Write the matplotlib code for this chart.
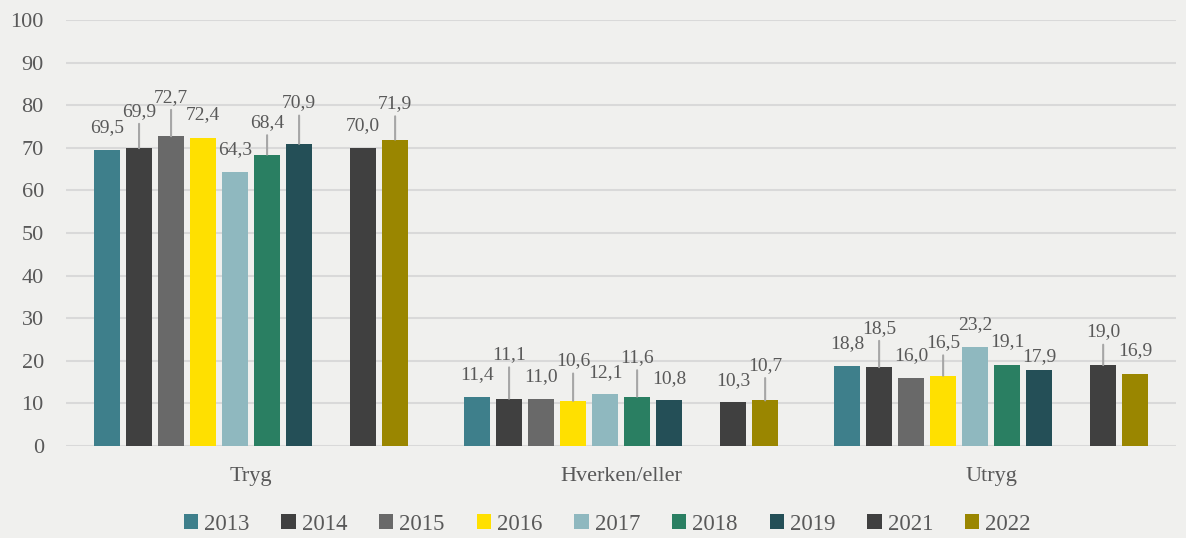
import numpy as np
import matplotlib
matplotlib.use("Agg")
import matplotlib.pyplot as plt

plt.rcParams['font.family'] = ['Liberation Serif', 'DejaVu Serif']

categories = ["Tryg", "Hverken/eller", "Utryg"]
years = ["2013", "2014", "2015", "2016", "2017", "2018", "2019", "2021", "2022"]
# slot index within each group (2020 is missing, leaves a gap)
slots = [0, 1, 2, 3, 4, 5, 6, 8, 9]

values = {
    "2013": [69.5, 11.4, 18.8],
    "2014": [69.9, 11.1, 18.5],
    "2015": [72.7, 11.0, 16.0],
    "2016": [72.4, 10.6, 16.5],
    "2017": [64.3, 12.1, 23.2],
    "2018": [68.4, 11.6, 19.1],
    "2019": [70.9, 10.8, 17.9],
    "2021": [70.0, 10.3, 19.0],
    "2022": [71.9, 10.7, 16.9],
}

colors = ["#3E7F8B", "#404040", "#696969", "#FFE000", "#8FB8BF",
          "#2A7F62", "#244F57", "#404040", "#9A8600"]

# label offsets above bar top, in pixels (per year, per category)
label_dy = {
    "2013": [22, 23, 22],
    "2014": [37, 44, 39],
    "2015": [39, 23, 22],
    "2016": [23, 40, 33],
    "2017": [22, 22, 23],
    "2018": [32, 39, 23],
    "2019": [41, 21, 13],
    "2021": [22, 22, 33],
    "2022": [36, 35, 23],
}

bg = "#F0F0EE"
text_col = "#595959"

fig = plt.figure(figsize=(11.86, 5.38), dpi=100, facecolor=bg)
ax = fig.add_axes([0.0557, 0.171, 0.936, 0.792])
ax.set_facecolor(bg)

step = 0.0865
width = 0.0703
x = np.arange(len(categories))

for i, yr in enumerate(years):
    pos = x + (slots[i] - 4.5) * step
    bars = ax.bar(pos, values[yr], width, color=colors[i], label=yr, zorder=3)
    for j, b in enumerate(bars):
        v = values[yr][j]
        dy = label_dy[yr][j]
        lbl = f"{v:.1f}".replace(".", ",")
        if dy > 28:
            ax.annotate(lbl, xy=(pos[j], v), xytext=(0, dy),
                        textcoords="offset pixels", ha="center", va="center",
                        fontsize=14, color=text_col,
                        arrowprops=dict(arrowstyle="-", color="#A6A6A6", lw=1.5,
                                        relpos=(0.5, 0), shrinkA=1, shrinkB=0))
        else:
            ax.annotate(lbl, xy=(pos[j], v), xytext=(0, dy),
                        textcoords="offset pixels", ha="center", va="center",
                        fontsize=14, color=text_col)

ax.set_xlim(-0.5, 2.5)
ax.set_ylim(0, 100)
ax.set_yticks(range(0, 101, 10))
ax.set_xticks(x)
ax.set_xticklabels(categories)
ax.tick_params(axis="both", length=0, labelsize=16, labelcolor=text_col)
ax.tick_params(axis="y", pad=16)
ax.tick_params(axis="x", pad=15)
ax.grid(axis="y", color="#D9D9D9", lw=1.5, zorder=0)
for s in ax.spines.values():
    s.set_visible(False)

fig.legend(loc="center", bbox_to_anchor=(0.512, 0.026), ncol=9,
           frameon=False, fontsize=16.5, labelcolor=text_col,
           handlelength=0.62, handleheight=0.62, handletextpad=0.26,
           columnspacing=1.4, borderpad=0.2)

fig.savefig("out.png", dpi=100, facecolor=bg)
